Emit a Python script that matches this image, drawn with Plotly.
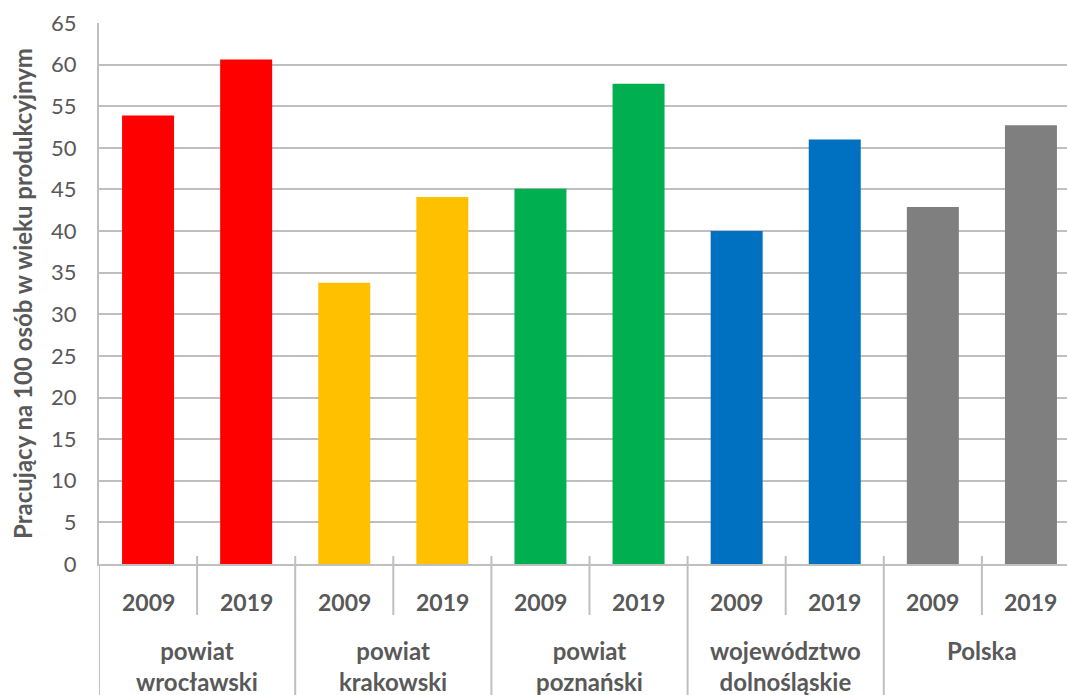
import plotly.graph_objects as go

groups = ["powiat<br>wrocławski", "powiat<br>krakowski", "powiat<br>poznański",
          "województwo<br>dolnośląskie", "Polska"]
years = ["2009", "2019"]
values = [53.9, 60.6, 33.8, 44.1, 45.1, 57.7, 40.0, 51.0, 42.9, 52.7]
group_colors = ["#FF0000", "#FFC000", "#00B050", "#0070C0", "#7F7F7F"]
y_title = "Pracujący na 100 osób w wieku produkcyjnym"

W, H = 1067, 695
ML, MR, MT, MB = 98.5, 0, 23, 131
ph = H - MT - MB
cat_px = 98.15  # pixel width of one category in the original (chart is cropped on the right)

xs = list(range(len(groups) * len(years)))
colors = [group_colors[i // len(years)] for i in xs]
xlabels = [years[i % len(years)] for i in xs]

FONT = "Lato, 'Open Sans', sans-serif"
TXT = "#595959"
GRID = "#BFBFBF"

fig = go.Figure(go.Bar(x=xs, y=values, marker=dict(color=colors, line=dict(width=0)),
                       width=0.53, hoverinfo="x+y"))

def py(pix):
    # pixel offset below the x axis -> paper coordinate
    return -pix / ph

annotations = []
for i, lab in enumerate(xlabels):
    annotations.append(dict(x=i, y=py(38), xref="x", yref="paper", text="<b>%s</b>" % lab,
                            showarrow=False, font=dict(size=23, color=TXT, family=FONT),
                            xanchor="center", yanchor="middle"))
for g, name in enumerate(groups):
    annotations.append(dict(x=g * 2 + 0.5, y=py(70), xref="x", yref="paper",
                            text="<b>%s</b>" % name, showarrow=False,
                            font=dict(size=24, color=TXT, family=FONT),
                            xanchor="center", yanchor="top"))

shapes = []
for i in range(len(xs)):
    xb = i - 0.5
    if i % 2 == 0:
        shapes.append(dict(type="line", xref="x", yref="paper", x0=xb, x1=xb,
                           y0=8 / ph if i > 0 else 0, y1=py(135),
                           line=dict(color=GRID, width=2)))
    else:
        shapes.append(dict(type="line", xref="x", yref="paper", x0=xb, x1=xb,
                           y0=8 / ph, y1=py(51), line=dict(color=GRID, width=2)))

x_end = -0.5 + (W - ML - MR) / cat_px

fig.update_layout(
    width=W, height=H,
    margin=dict(l=ML, r=MR, t=MT, b=MB, autoexpand=False),
    paper_bgcolor="white", plot_bgcolor="white",
    showlegend=False, bargap=0.47,
    font=dict(family=FONT, color=TXT),
    annotations=annotations, shapes=shapes,
    xaxis=dict(range=[-0.5, x_end], showticklabels=False, showgrid=False,
               zeroline=False, showline=True, linecolor=GRID, linewidth=2, ticks="",
               automargin=False),
    yaxis=dict(range=[0, 65], dtick=5, showgrid=True, gridcolor=GRID, gridwidth=1.5,
               zeroline=False, showline=True, linecolor=GRID, linewidth=2,
               ticks="", tickfont=dict(size=22, color=TXT, family=FONT),
               ticklabelstandoff=16, automargin=False,
               title=dict(text="<b>%s</b>" % y_title, font=dict(size=24, color=TXT, family=FONT),
                          standoff=12)),
)

fig.write_html("out.html", config={"displayModeBar": False},
               post_script="document.body.style.margin='0';")
